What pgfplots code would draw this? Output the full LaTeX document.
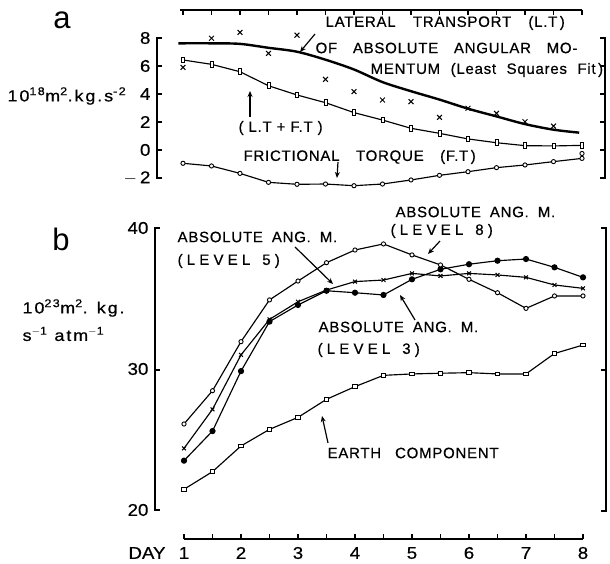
\documentclass[border=0pt]{standalone}
\usepackage{fontspec}
\setmainfont{Liberation Sans}
\newfontfamily\lab[LetterSpace=5, FakeBold=0.6]{Liberation Sans}
\newfontfamily\labw[LetterSpace=28, FakeBold=0.6]{Liberation Sans}
\newfontfamily\tkf[FakeStretch=1.1, FakeBold=0.6]{Liberation Sans}
\newfontfamily\ulab[FakeStretch=1.12, LetterSpace=12, FakeBold=0.6]{Liberation Sans}
\usepackage{pgfplots}
\pgfplotsset{compat=1.18}
\usetikzlibrary{arrows.meta}

\pgfplotsset{
  panel/.style={scale only axis, hide axis, clip=false, width=456pt,
    xmin=0.5, xmax=8.5, anchor=south west},
  ln/.style={black, line width=1.15pt},
  sqa/.style={ln, mark=square*, mark size=2.8pt,
    mark options={fill=white, xscale=0.55, line width=0.9pt, solid}},
  sqb/.style={ln, mark=square*, mark size=2.2pt,
    mark options={fill=white, yscale=0.85, line width=0.9pt, solid}},
  oc/.style={ln, mark=*, mark size=2.1pt,
    mark options={fill=white, line width=0.9pt}},
  fc/.style={ln, mark=*, mark size=2.5pt, mark options={fill=black}},
  xm/.style={ln, mark=x, mark size=2.7pt, mark options={line width=1pt}},
}
% annotation font; optional argument = width of a word space
\newcommand{\lf}[1][0.6em]{\lab\fontsize{15}{17}\selectfont\spaceskip=#1\relax}
\newcommand{\lw}{\labw\fontsize{15}{17}\selectfont\spaceskip=0.8em\relax}
\newcommand{\tf}{\tkf\fontsize{17}{19}\selectfont}
\newcommand{\uf}{\ulab\fontsize{16}{18}\selectfont}

\begin{document}
\begin{tikzpicture}
% ---------------- panel a
\begin{axis}[panel, at={(154.5pt,-192pt)}, ymin=-3, ymax=10.8, height=193.2pt]
  % least squares fit
  \addplot[black, line width=2.4pt, smooth] coordinates {
    (0.92,7.62) (1.5,7.62) (2,7.58) (2.5,7.3) (3,7.02) (3.5,6.45) (4,5.75)
    (4.5,4.85) (5,4.2) (5.5,3.6) (6,2.95) (6.5,2.4) (7,1.85) (7.5,1.45) (7.95,1.24)
  };
  % lateral transport
  \addplot[xm, only marks, mark size=3.4pt] coordinates {
    (1,5.9) (1.5,7.98) (2,8.4) (2.5,6.9) (3,8.2) (3.5,5.05) (4,4.17) (4.5,3.57)
    (5,3.45) (5.5,2.33) (6,2.98) (6.5,2.62) (7,2.02) (7.5,1.71)
  };
  % L.T + F.T
  \addplot[sqa] coordinates {
    (1,6.43) (1.5,6.12) (2,5.59) (2.5,4.59) (3,3.93) (3.5,3.38) (4,2.67) (4.5,2.14)
    (5,1.55) (5.5,1.19) (6,0.79) (6.5,0.52) (7,0.31) (7.5,0.29) (8,0.33)
  };
  % frictional torque
  \addplot[oc] coordinates {
    (1,-0.95) (1.5,-1.14) (2,-1.67) (2.5,-2.31) (3,-2.45) (3.5,-2.43) (4,-2.55)
    (4.5,-2.43) (5,-2.14) (5.5,-1.81) (6,-1.55) (6.5,-1.26) (7,-1.07) (7.5,-0.83) (8,-0.6)
  };
  \addplot[oc, only marks] coordinates {(8,-0.25)};
\end{axis}
% ---------------- panel b
\begin{axis}[panel, at={(155.5pt,-566.4pt)}, ymin=16, ymax=42, height=366.6pt]
  % earth component
  \addplot[sqb] coordinates {
    (1,21.47) (1.5,22.72) (2,24.54) (2.5,25.72) (3,26.57) (3.5,27.85) (4,28.75)
    (4.5,29.55) (5,29.65) (5.5,29.7) (6,29.74) (6.5,29.65) (7,29.65) (7.5,31.1) (8,31.7)
  };
  % level 3
  \addplot[fc] coordinates {
    (1,23.5) (1.5,25.6) (2,29.85) (2.5,33.36) (3,34.54) (3.5,35.55) (4,35.41)
    (4.5,35.25) (5,36.36) (5.5,37.07) (6,37.43) (6.5,37.68) (7,37.8) (7.5,37.21) (8,36.5)
  };
  % level 8
  \addplot[xm] coordinates {
    (1,24.37) (1.5,27.14) (2,31.0) (2.5,33.52) (3,34.77) (3.5,35.6) (4,36.2)
    (4.5,36.31) (5,36.78) (5.5,36.6) (6,36.78) (6.5,36.67) (7,36.5) (7.5,35.96) (8,35.72)
  };
  % level 5
  \addplot[oc] coordinates {
    (1,26.1) (1.5,28.46) (2,31.94) (2.5,34.9) (3,36.24) (3.5,37.54) (4,38.44)
    (4.5,38.87) (5,38.09) (5.5,37.38) (6,36.36) (6.5,35.41) (7,34.3) (7.5,35.18) (8,35.18)
  };
\end{axis}
% ---------------- frames, ticks and labels (1pt = 1px, y downwards)
\begin{scope}[x=1pt, y=-1pt, line width=1.2pt]
  % panel a: top axis
  \draw (180,10) -- (582,10);
  \foreach \i in {0,...,14} \draw (183+28.5*\i,10) -- ++(0,5);
  % panel a: left and right axes
  \draw (162,38) -- (157,38) -- (157,178) -- (162,178);
  \foreach \v in {6,4,2,0} \draw (157,150-14*\v) -- ++(5,0);
  \draw (600,38) -- (605,38) -- (605,178) -- (600,178);
  \foreach \v in {6,4,2,0} \draw (605,150-14*\v) -- ++(-5,0);
  \foreach \v/\t in {8/8,6/6,4/4,2/2,0/0,-2/{$-$\,2}}
    \node[anchor=east, inner sep=0pt, font=\tf] at (151,150-14*\v) {\t};
  \node[font=\fontsize{31}{33}\selectfont] at (62,20) {a};
  \node[anchor=west, inner sep=0pt, font=\uf] at (7,96)
    {10\textsuperscript{18}m\textsuperscript{2}.kg.s\textsuperscript{-2}};
  % panel a: annotations
  \node[anchor=west, inner sep=0pt, font={\lf[1.15em]}] at (325,23) {LATERAL TRANSPORT (L.T\,)};
  \node[anchor=west, inner sep=0pt, font={\lf[1.05em]}] at (315,48) {OF ABSOLUTE ANGULAR MO-};
  \node[anchor=west, inner sep=0pt, font={\lf[0.7em]}] at (370,70) {MENTUM (Least Squares Fit\,)};
  \draw[-{Stealth[length=6pt,width=5pt]}] (315,34) -- (300,52);
  \node[anchor=west, inner sep=0pt, font={\lf[0.33em]}] at (238,128) {( L.T + F.T )};
  \draw[-{Stealth[length=6pt,width=5pt]}] (250,117) -- (250,91);
  \node[anchor=west, inner sep=0pt, font={\lf[1.1em]}] at (243,157) {FRICTIONAL TORQUE (F.T\,)};
  \draw[-{Stealth[length=6pt,width=5pt]}] (338,162) -- (337,178);
  % panel b: left and right axes
  \draw (160,228) -- (155,228) -- (155,510) -- (160,510);
  \draw (155,370) -- ++(5,0);
  \draw (601,228) -- (606,228) -- (606,511) -- (601,511);
  \draw (606,370) -- ++(-5,0);
  \foreach \v in {20,30,40}
    \node[anchor=east, inner sep=0pt, font=\tf] at (149,510-14.1*\v+282) {\v};
  \node[font=\fontsize{31}{33}\selectfont] at (61,239) {b};
  \node[anchor=west, inner sep=0pt, font=\uf] at (22,308)
    {10\textsuperscript{23}m\textsuperscript{2}. kg.};
  \node[anchor=west, inner sep=0pt, font=\uf] at (22,334)
    {s\textsuperscript{$-$1} atm\textsuperscript{$-$1}};
  % panel b: bottom axis
  \draw (184,539) -- (583,539);
  \foreach \i in {0,...,14} \draw (184+28.5*\i,539) -- ++(0,-5);
  \foreach \d in {1,...,8}
    \node[font=\tf, inner sep=0pt] at (184+57*\d-57,553) {\d};
  \node[font=\tf, inner sep=0pt] at (147,553) {DAY};
  % panel b: annotations
  \node[anchor=west, inner sep=0pt, font=\lf] at (177,237) {ABSOLUTE ANG. M.};
  \node[anchor=west, inner sep=0pt, font=\lw] at (177,261) {(LEVEL 5)};
  \draw[-{Stealth[length=6pt,width=5pt]}] (295,247) -- (333,284);
  \node[anchor=west, inner sep=0pt, font=\lf] at (395,212) {ABSOLUTE ANG. M.};
  \node[anchor=west, inner sep=0pt, font=\lw] at (390,231) {(LEVEL 8)};
  \draw[-{Stealth[length=6pt,width=5pt]}] (440,241) -- (428,254);
  \node[anchor=west, inner sep=0pt, font=\lf] at (318,327) {ABSOLUTE ANG. M.};
  \node[anchor=west, inner sep=0pt, font=\lw] at (317,350) {(LEVEL 3)};
  \draw[-{Stealth[length=6pt,width=5pt]}] (415,320) -- (400,295);
  \node[anchor=west, inner sep=0pt, font={\lf[0.93em]}] at (327,453) {EARTH COMPONENT};
  \draw[-{Stealth[length=6pt,width=5pt]}] (328,443) -- (322,416);
\end{scope}
\pgfresetboundingbox
\path (0pt,0pt) rectangle (610pt,-564pt);
\end{tikzpicture}
\end{document}
